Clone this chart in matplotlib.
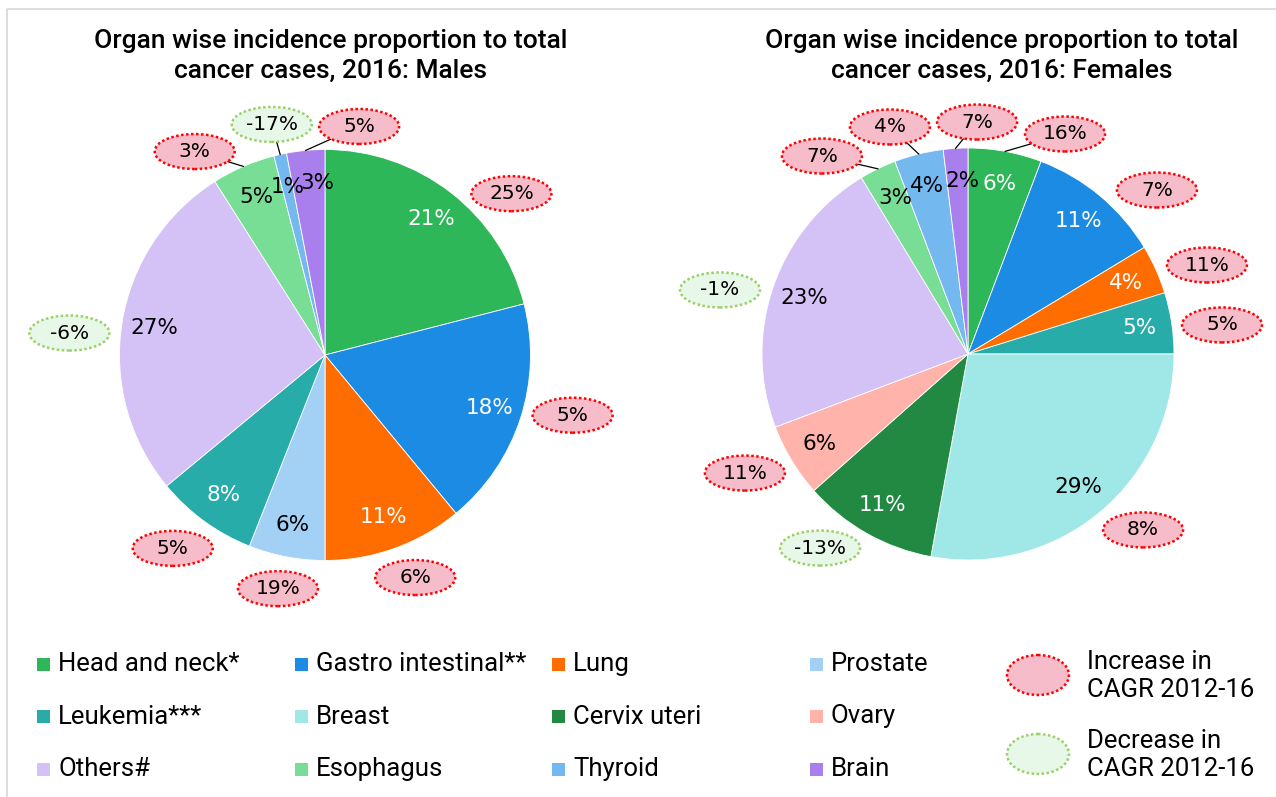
import numpy as np
import matplotlib
matplotlib.use("Agg")
import matplotlib.pyplot as plt
from matplotlib.patches import Ellipse, Rectangle

# -------------------------------------------------------------------
# DATA
# -------------------------------------------------------------------
ORGANS = ["Head and neck*", "Gastro intestinal**", "Lung", "Prostate",
          "Leukemia***", "Breast", "Cervix uteri", "Ovary",
          "Others#", "Esophagus", "Thyroid", "Brain"]
ORGAN_COLORS = ["#2EB758", "#1B8BE3", "#FF6D00", "#A3D0F5",
                "#27ACAA", "#A0E8E8", "#228942", "#FFB3AB",
                "#D4C1F5", "#78DD95", "#74B8F0", "#A97FEE"]

MALE_ORGANS = ["Head and neck*", "Gastro intestinal**", "Lung", "Prostate",
               "Leukemia***", "Others#", "Esophagus", "Thyroid", "Brain"]
MALE_SHARE = [21, 18, 11, 6, 8, 27, 5, 1, 3]          # % of total cases
MALE_CAGR = [25, 5, 6, 19, 5, -6, 3, -17, 5]           # CAGR 2012-16, %

FEMALE_ORGANS = ["Head and neck*", "Gastro intestinal**", "Lung", "Leukemia***",
                 "Breast", "Cervix uteri", "Ovary", "Others#",
                 "Esophagus", "Thyroid", "Brain"]
FEMALE_SHARE = [6, 11, 4, 5, 29, 11, 6, 23, 3, 4, 2]
FEMALE_CAGR = [16, 7, 11, 5, 8, -13, 11, -1, 7, 4, 7]

# -------------------------------------------------------------------
# LAYOUT (pixels, figure is 1276 x 797)
# -------------------------------------------------------------------
W, H = 1276, 797
DARK_SLICES = {"Head and neck*", "Gastro intestinal**", "Lung",
               "Leukemia***", "Cervix uteri"}

# bubble placement in units of pie radius, one per slice
MALE_BUBBLES = [(0.907, 0.785), (1.205, -0.293), (0.439, -1.083),
                (-0.229, -1.137), (-0.741, -0.941), (-1.244, 0.107),
                (-0.634, 0.990), (-0.259, 1.122), (0.166, 1.112)]
MALE_LEADERS = {"Esophagus", "Thyroid", "Brain"}
MALE_NUDGE = {"Brain": (9, 0)}        # pixel shift of the % label

FEMALE_BUBBLES = [(0.471, 1.068), (0.917, 0.796), (1.160, 0.432),
                  (1.233, 0.141), (0.850, -0.854), (-0.718, -0.942),
                  (-1.083, -0.578), (-1.204, 0.311), (-0.709, 0.961),
                  (-0.379, 1.102), (0.044, 1.126)]
FEMALE_LEADERS = {"Head and neck*", "Esophagus", "Thyroid", "Brain"}
FEMALE_NUDGE = {"Brain": (5, 0), "Esophagus": (3, 0)}

UP_FACE, UP_EDGE = "#F7BCCA", "#FF0000"
DOWN_FACE, DOWN_EDGE = "#E8F8E8", "#9BD068"

TEXT_FONT = ["Roboto", "DejaVu Sans"]
PCT_FONT = ["DejaVu Sans"]

color_of = dict(zip(ORGANS, ORGAN_COLORS))

fig = plt.figure(figsize=(W / 100, H / 100), dpi=100)
fig.patch.set_facecolor("white")

# overlay axes in pixel coordinates for titles, legend and frame
ov = fig.add_axes([0, 0, 1, 1])
ov.set_xlim(0, W)
ov.set_ylim(H, 0)
ov.axis("off")
ov.add_patch(Rectangle((7, 9), W + 20, H + 20, fill=False,
                       edgecolor="#D9D9DE", lw=1.3))


def draw_pie(cx, cy, R, box, organs, shares, cagr, bubbles, leaders, nudge, title):
    left, top, right, bottom = box
    ax = fig.add_axes([left / W, 1 - bottom / H, (right - left) / W, (bottom - top) / H])
    wedges, _ = ax.pie(shares, colors=[color_of[o] for o in organs],
                       startangle=90, counterclock=False, radius=1,
                       wedgeprops=dict(linewidth=0.6, edgecolor="white"))
    ax.set_xlim((left - cx) / R, (right - cx) / R)
    ax.set_ylim((cy - bottom) / R, (cy - top) / R)

    bw, bh = 80 / R, 35 / R
    for w, organ, val, chg, (bx, by) in zip(wedges, organs, shares, cagr, bubbles):
        mid = np.deg2rad((w.theta1 + w.theta2) / 2)
        col = "white" if organ in DARK_SLICES else "black"
        nx, ny = nudge.get(organ, (0, 0))
        ax.text(0.84 * np.cos(mid) + nx / R, 0.84 * np.sin(mid) + ny / R, f"{val}%",
                ha="center", va="center", color=col, fontsize=15.5, family=PCT_FONT)

        up = chg >= 0
        ax.add_patch(Ellipse((bx, by), bw, bh,
                             facecolor=UP_FACE if up else DOWN_FACE,
                             edgecolor=UP_EDGE if up else DOWN_EDGE,
                             lw=1.8, linestyle=(0, (1, 1)), zorder=4))
        ax.text(bx, by, f"{chg}%", ha="center", va="center", fontsize=14.5,
                family=PCT_FONT, zorder=5)

        if organ in leaders:
            px, py = np.cos(mid), np.sin(mid)
            dx, dy = px - bx, py - by
            t = 1 / np.sqrt((dx / (bw / 2)) ** 2 + (dy / (bh / 2)) ** 2)
            ax.plot([bx + t * dx, px], [by + t * dy, py], color="black",
                    lw=0.9, zorder=3)

    ov.text(title[0], title[1], title[2], ha="center", va="top", fontsize=19,
            family=TEXT_FONT, fontweight="medium", linespacing=1.32)


draw_pie(325, 355, 205.5, (0, 95, 640, 625), MALE_ORGANS, MALE_SHARE,
         MALE_CAGR, MALE_BUBBLES, MALE_LEADERS, MALE_NUDGE,
         (331, 29, "Organ wise incidence proportion to total\ncancer cases, 2016: Males"))
draw_pie(968, 354, 206, (640, 95, 1276, 625), FEMALE_ORGANS, FEMALE_SHARE,
         FEMALE_CAGR, FEMALE_BUBBLES, FEMALE_LEADERS, FEMALE_NUDGE,
         (1002, 29, "Organ wise incidence proportion to total\ncancer cases, 2016: Females"))

# legend: 3 rows x 4 columns, row-major
for i, (name, col) in enumerate(zip(ORGANS, ORGAN_COLORS)):
    r, c = divmod(i, 4)
    x0 = 37 + c * 257.5
    y0 = 664 + r * 52.5
    ov.add_patch(Rectangle((x0, y0 - 6.5), 13, 13, facecolor=col, edgecolor="none"))
    ov.text(x0 + 21, y0, name, ha="left", va="center", fontsize=18.5,
            family=TEXT_FONT)

ov.add_patch(Ellipse((1038, 675), 62, 40, facecolor=UP_FACE, edgecolor=UP_EDGE,
                     lw=1.8, linestyle=(0, (1, 1))))
ov.add_patch(Ellipse((1038, 754), 62, 40, facecolor=DOWN_FACE, edgecolor=DOWN_EDGE,
                     lw=1.8, linestyle=(0, (1, 1))))
ov.text(1087, 676, "Increase in\nCAGR 2012-16", ha="left", va="center",
        fontsize=18.5, family=TEXT_FONT, linespacing=1.2)
ov.text(1087, 755, "Decrease in\nCAGR 2012-16", ha="left", va="center",
        fontsize=18.5, family=TEXT_FONT, linespacing=1.2)

fig.savefig("out.png", dpi=100)
